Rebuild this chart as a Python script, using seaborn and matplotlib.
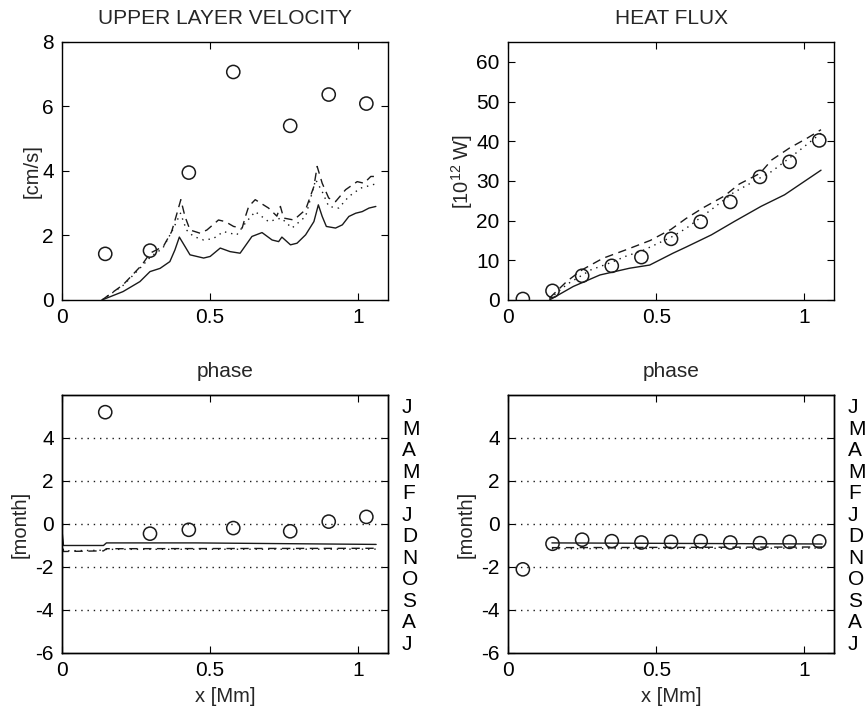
"""Upper layer velocity, heat flux and their phase along x — four panels, MATLAB look."""
import numpy as np
import matplotlib
matplotlib.use("Agg")
import matplotlib.pyplot as plt
import seaborn as sns

# --- observations (circles) ---
vel_obs_x = [0.146, 0.297, 0.428, 0.578, 0.770, 0.900, 1.027]
vel_obs = [1.43, 1.53, 3.95, 7.07, 5.40, 6.37, 6.09]
vel_phase_obs = [5.20, -0.45, -0.27, -0.19, -0.34, 0.11, 0.33]

hf_obs_x = [0.05, 0.15, 0.25, 0.35, 0.45, 0.55, 0.65, 0.75, 0.85, 0.95, 1.05]
hf_obs = [0.25, 2.3, 6.1, 8.6, 10.8, 15.4, 19.7, 24.7, 31.0, 34.8, 40.2]
hf_phase_obs = [-2.11, -0.92, -0.73, -0.80, -0.86, -0.83, -0.80, -0.86, -0.89, -0.83, -0.81]

# --- model curves: upper layer velocity ---
vel_solid_x = [0.135, 0.206, 0.263, 0.297, 0.331, 0.364, 0.381, 0.396, 0.415, 0.432,
               0.455, 0.478, 0.50, 0.534, 0.567, 0.601, 0.641, 0.675, 0.709, 0.731,
               0.742, 0.771, 0.793, 0.822, 0.850, 0.865, 0.878, 0.892, 0.923, 0.946,
               0.968, 0.991, 1.013, 1.036, 1.059]
vel_solid = [0.0, 0.26, 0.57, 0.88, 0.98, 1.19, 1.55, 1.95, 1.66, 1.40,
             1.35, 1.30, 1.35, 1.61, 1.50, 1.45, 1.97, 2.09, 1.86, 1.81,
             1.95, 1.71, 1.76, 2.02, 2.43, 2.95, 2.59, 2.28, 2.23, 2.33,
             2.59, 2.69, 2.74, 2.85, 2.90]
vel_dash_x = [0.135, 0.206, 0.27, 0.297, 0.342, 0.370, 0.385, 0.401, 0.415, 0.432,
              0.466, 0.489, 0.528, 0.551, 0.579, 0.608, 0.619, 0.63, 0.652, 0.697,
              0.725, 0.737, 0.748, 0.782, 0.822, 0.850, 0.861, 0.878, 0.900, 0.923,
              0.957, 0.996, 1.019, 1.042, 1.059]
vel_dash = [0.0, 0.47, 1.09, 1.45, 1.66, 2.12, 2.59, 3.11, 2.59, 2.17,
            2.07, 2.17, 2.48, 2.43, 2.28, 2.23, 2.59, 2.90, 3.11, 2.85,
            2.60, 2.90, 2.54, 2.48, 2.80, 3.52, 4.14, 3.62, 3.16, 3.05,
            3.42, 3.67, 3.62, 3.83, 3.83]
vel_dot_x = [0.135, 0.206, 0.27, 0.30, 0.34, 0.375, 0.40, 0.42, 0.444, 0.478,
             0.51, 0.545, 0.59, 0.62, 0.652, 0.697, 0.74, 0.776, 0.822, 0.856,
             0.878, 0.900, 0.934, 0.968, 1.008, 1.047, 1.059]
vel_dot = [0.0, 0.45, 1.05, 1.35, 1.60, 2.20, 2.69, 2.17, 1.97, 1.86,
           1.90, 2.12, 2.02, 2.40, 2.74, 2.43, 2.54, 2.23, 2.59, 3.73,
           3.36, 2.90, 2.85, 3.21, 3.47, 3.57, 3.60]

# --- model curves: heat flux ---
hf_solid_x = [0.14, 0.22, 0.31, 0.41, 0.478, 0.557, 0.60, 0.686, 0.764, 0.854, 0.933, 1.056]
hf_solid = [0.0, 3.4, 6.3, 8.0, 8.8, 11.8, 13.3, 16.4, 19.8, 23.6, 26.5, 32.7]
hf_dash_x = [0.14, 0.20, 0.25, 0.32, 0.40, 0.48, 0.55, 0.60, 0.66, 0.73, 0.78, 0.85,
             0.89, 0.95, 1.01, 1.056]
hf_dash = [0.5, 4.8, 7.6, 10.5, 12.7, 15.0, 17.8, 20.5, 23.3, 26.2, 29.2, 31.9,
           35.3, 38.3, 40.8, 42.9]
hf_dot_x = [0.14, 0.20, 0.28, 0.35, 0.40, 0.45, 0.55, 0.60, 0.69, 0.76, 0.89, 0.98, 1.056]
hf_dot = [0.3, 4.0, 7.6, 9.5, 11.1, 12.3, 15.8, 18.0, 23.0, 27.0, 32.4, 37.5, 42.0]

# --- model curves: phases ---
vph_solid_x = [0.0, 0.005, 0.14, 0.15, 0.45, 1.06]
vph_solid = [-0.30, -1.00, -1.00, -0.88, -0.88, -0.95]
vph_dash_x = [0.0, 0.005, 0.14, 0.15, 1.06]
vph_dash = [-0.50, -1.28, -1.25, -1.15, -1.13]
vph_dot_x = [0.0, 0.005, 0.14, 0.15, 1.06]
vph_dot = [-0.60, -1.25, -1.22, -1.18, -1.17]

hph_x = [0.148, 1.06]
hph_solid = [-0.88, -0.93]
hph_dash = [-1.10, -1.07]
hph_dot = [-1.15, -1.12]

MONTHS = ["J", "M", "A", "M", "F", "J", "D", "N", "O", "S", "A", "J"]
MONTH_POS = [5.5, 4.5, 3.5, 2.5, 1.5, 0.5, -0.5, -1.5, -2.5, -3.5, -4.5, -5.5]

DOT = (0, (1, 3.5))
DASH = (0, (6, 4))

sns.set_theme(style="ticks")
plt.rcParams["font.family"] = ["Liberation Sans", "DejaVu Sans"]
plt.rcParams.update({
    "mathtext.fontset": "custom", "mathtext.rm": "Liberation Sans",
    "mathtext.default": "regular", "axes.unicode_minus": False,
    "xtick.direction": "in", "ytick.direction": "in",
    "axes.edgecolor": "black", "axes.linewidth": 1.0,
    "xtick.color": "black", "ytick.color": "black",
})


def curvas(ax, tripla):
    for (x, y), ls in zip(tripla, ["-", DASH, DOT]):
        sns.lineplot(x=x, y=y, ax=ax, color="k", lw=1, linestyle=ls,
                     estimator=None, sort=False)


def circulos(ax, x, y):
    sns.scatterplot(x=x, y=y, ax=ax, color="k", edgecolor="k", s=90,
                    linewidth=1.1, zorder=3)
    ax.collections[-1].set_facecolor("none")


def moldura(ax):
    ax.set_xlim(0, 1.1)
    ax.set_xticks([0, 0.5, 1])
    ax.set_xticklabels(["0", "0.5", "1"])
    ax.tick_params(top=True, right=True, labelsize=15, length=5, width=0.8, pad=6)
    for s in ax.spines.values():
        s.set_visible(True)


fig = plt.figure(figsize=(8.68, 7.09), dpi=100)
W, H = 0.3756, 0.3639
ax1 = fig.add_axes([0.0714, 0.5769, W, H])
ax2 = fig.add_axes([0.5853, 0.5769, W, H])
ax3 = fig.add_axes([0.0714, 0.0790, W, H])
ax4 = fig.add_axes([0.5853, 0.0790, W, H])

# velocidade
curvas(ax1, [(vel_solid_x, vel_solid), (vel_dash_x, vel_dash), (vel_dot_x, vel_dot)])
circulos(ax1, vel_obs_x, vel_obs)
ax1.set_ylim(0, 8)
ax1.set_yticks([0, 2, 4, 6, 8])
ax1.set_title("UPPER LAYER VELOCITY", fontsize=15, pad=13)
ax1.set_ylabel("[cm/s]", fontsize=14.5, labelpad=0)

# fluxo de calor
curvas(ax2, [(hf_solid_x, hf_solid), (hf_dash_x, hf_dash), (hf_dot_x, hf_dot)])
circulos(ax2, hf_obs_x, hf_obs)
ax2.set_ylim(0, 65)
ax2.set_yticks([0, 10, 20, 30, 40, 50, 60])
ax2.set_title("HEAT FLUX", fontsize=15, pad=13)
ax2.set_ylabel("[10$^{12}$ W]", fontsize=14.5, labelpad=1)

# fases
curvas(ax3, [(vph_solid_x, vph_solid), (vph_dash_x, vph_dash), (vph_dot_x, vph_dot)])
circulos(ax3, vel_obs_x, vel_phase_obs)
curvas(ax4, [(hph_x, hph_solid), (hph_x, hph_dash), (hph_x, hph_dot)])
circulos(ax4, hf_obs_x, hf_phase_obs)

for ax in (ax3, ax4):
    ax.set_ylim(-6, 6)
    ax.set_yticks([-6, -4, -2, 0, 2, 4])
    for g in [-4, -2, 0, 2, 4]:
        ax.axhline(g, color="k", lw=1, linestyle=DOT, zorder=1)
    ax.set_title("phase", fontsize=15, pad=13)
    ax.set_ylabel("[month]", fontsize=14.5)
    ax.set_xlabel("x [Mm]", fontsize=14.5, labelpad=5)
    tw = ax.twinx()
    tw.set_ylim(-6, 6)
    tw.set_yticks(MONTH_POS)
    tw.set_yticklabels(MONTHS)
    tw.tick_params(length=0, labelsize=15, pad=10)

for ax in (ax1, ax2, ax3, ax4):
    moldura(ax)
    if ax in (ax1, ax2):
        ax.set_xlabel("")

fig.savefig("out.png", dpi=100)
